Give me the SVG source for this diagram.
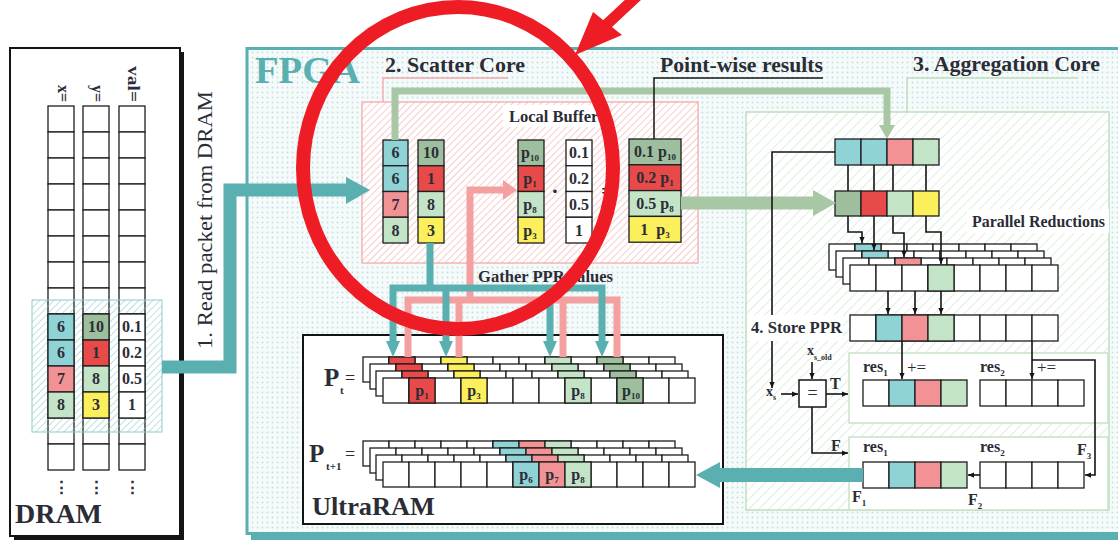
<svg xmlns="http://www.w3.org/2000/svg" xmlns:xlink="http://www.w3.org/1999/xlink" width="1118" height="540" viewBox="0 0 1118 540">
<style>
text{font-family:"Liberation Serif","DejaVu Serif",serif;font-weight:bold;fill:#2b2d36}
.c{font-size:16px;text-anchor:middle}
.cl{stroke:#1e1e1e;stroke-width:1.3}
.w{fill:#fff}.cy{fill:#8fd3d6}.pk{fill:#f29294}.rd{fill:#e84a4a}.lg{fill:#c4e4c8}.dg{fill:#9dbf9e}.yl{fill:#fbef5c}
.ln{fill:none;stroke:#141414;stroke-width:1.6}
.teal{fill:none;stroke:#5ab0b0}
.tealf{fill:#5ab0b0}
.pinkl{fill:none;stroke:#f4a0a0;stroke-width:7}
.sage{fill:none;stroke:#a8c7a4}
.sagef{fill:#a8c7a4}
.lbl{fill:#fff}
</style>
<defs>
<pattern id="dots" width="5" height="5" patternUnits="userSpaceOnUse"><rect width="5" height="5" fill="#f5fafa"/><circle cx="2.5" cy="2.5" r="0.9" fill="#c8dfe0"/></pattern>
<pattern id="hPink" width="5" height="5" patternUnits="userSpaceOnUse" patternTransform="rotate(45)"><rect width="5" height="5" fill="#fff"/><line x1="0" y1="0" x2="0" y2="5" stroke="#f5b0b0" stroke-width="1.3"/></pattern>
<pattern id="hGreen" width="7" height="7" patternUnits="userSpaceOnUse" patternTransform="rotate(45)"><rect width="7" height="7" fill="#fff"/><line x1="0" y1="0" x2="0" y2="7" stroke="#cfe6cf" stroke-width="1.3"/></pattern>
<pattern id="hTeal" width="5" height="5" patternUnits="userSpaceOnUse" patternTransform="rotate(45)"><line x1="0" y1="0" x2="0" y2="5" stroke="#86c6c6" stroke-width="1.1"/></pattern>
<marker id="ah" viewBox="0 0 8 8" refX="8" refY="4" markerWidth="6" markerHeight="6" markerUnits="userSpaceOnUse" orient="auto"><path d="M0,0.5 L8,4 L0,7.5z" fill="#141414"/></marker>
<g id="dcol">
<rect class="cl w" x="0" y="106" width="26" height="26"/><rect class="cl w" x="0" y="132" width="26" height="26"/><rect class="cl w" x="0" y="158" width="26" height="26"/><rect class="cl w" x="0" y="184" width="26" height="26"/><rect class="cl w" x="0" y="210" width="26" height="26"/><rect class="cl w" x="0" y="236" width="26" height="26"/><rect class="cl w" x="0" y="262" width="26" height="26"/><rect class="cl w" x="0" y="288" width="26" height="26"/><rect class="cl w" x="0" y="314" width="26" height="26"/><rect class="cl w" x="0" y="340" width="26" height="26"/><rect class="cl w" x="0" y="366" width="26" height="26"/><rect class="cl w" x="0" y="392" width="26" height="26"/><rect class="cl w" x="0" y="418" width="26" height="26"/><rect class="cl w" x="0" y="444" width="26" height="26"/>
</g>
<g id="row12">
<rect class="cl w" x="0" y="0" width="26" height="25"/><rect class="cl w" x="26" y="0" width="26" height="25"/><rect class="cl w" x="52" y="0" width="26" height="25"/><rect class="cl w" x="78" y="0" width="26" height="25"/><rect class="cl w" x="104" y="0" width="26" height="25"/><rect class="cl w" x="130" y="0" width="26" height="25"/><rect class="cl w" x="156" y="0" width="26" height="25"/><rect class="cl w" x="182" y="0" width="26" height="25"/><rect class="cl w" x="208" y="0" width="26" height="25"/><rect class="cl w" x="234" y="0" width="26" height="25"/><rect class="cl w" x="260" y="0" width="26" height="25"/><rect class="cl w" x="286" y="0" width="26" height="25"/>
</g>
<g id="row8">
<rect class="cl w" x="0" y="0" width="26" height="26"/><rect class="cl w" x="26" y="0" width="26" height="26"/><rect class="cl w" x="52" y="0" width="26" height="26"/><rect class="cl w" x="78" y="0" width="26" height="26"/><rect class="cl w" x="104" y="0" width="26" height="26"/><rect class="cl w" x="130" y="0" width="26" height="26"/><rect class="cl w" x="156" y="0" width="26" height="26"/><rect class="cl w" x="182" y="0" width="26" height="26"/>
</g>
</defs>

<rect width="1118" height="540" fill="#fff"/>

<!-- DRAM -->
<g id="dram">
<rect x="14" y="52" width="170" height="488" fill="#141414"/>
<rect x="10" y="48" width="170" height="488" fill="#fff" stroke="#141414" stroke-width="2"/>
<text x="58" y="102" font-size="16" text-anchor="end" transform="rotate(90 58 102)">x=</text>
<text x="92" y="102" font-size="16" text-anchor="end" transform="rotate(90 92 102)">y=</text>
<text x="128" y="102" font-size="16" text-anchor="end" textLength="36" lengthAdjust="spacingAndGlyphs" transform="rotate(90 128 102)">val=</text>
<use href="#dcol" x="48"/><use href="#dcol" x="83"/><use href="#dcol" x="119"/>
<rect x="32" y="300" width="130" height="132" fill="url(#hTeal)" stroke="#8fcaca" stroke-width="1"/>
<rect class="cl cy" x="48" y="314" width="26" height="26"/><rect class="cl cy" x="48" y="340" width="26" height="26"/><rect class="cl pk" x="48" y="366" width="26" height="26"/><rect class="cl lg" x="48" y="392" width="26" height="26"/>
<rect class="cl dg" x="83" y="314" width="26" height="26"/><rect class="cl rd" x="83" y="340" width="26" height="26"/><rect class="cl lg" x="83" y="366" width="26" height="26"/><rect class="cl yl" x="83" y="392" width="26" height="26"/>
<rect class="cl w" x="119" y="314" width="26" height="26"/><rect class="cl w" x="119" y="340" width="26" height="26"/><rect class="cl w" x="119" y="366" width="26" height="26"/><rect class="cl w" x="119" y="392" width="26" height="26"/>
<text class="c" x="61" y="332">6</text><text class="c" x="61" y="358">6</text><text class="c" x="61" y="384">7</text><text class="c" x="61" y="410">8</text>
<text class="c" x="96" y="332">10</text><text class="c" x="96" y="358">1</text><text class="c" x="96" y="384">8</text><text class="c" x="96" y="410">3</text>
<text class="c" x="132" y="332">0.1</text><text class="c" x="132" y="358">0.2</text><text class="c" x="132" y="384">0.5</text><text class="c" x="132" y="410">1</text>
<text x="61" y="493" font-size="17" text-anchor="middle" style="font-family:'DejaVu Serif',serif">⋮</text>
<text x="96" y="493" font-size="17" text-anchor="middle" style="font-family:'DejaVu Serif',serif">⋮</text>
<text x="132" y="493" font-size="17" text-anchor="middle" style="font-family:'DejaVu Serif',serif">⋮</text>
<text x="15" y="523" font-size="27" textLength="87" lengthAdjust="spacingAndGlyphs">DRAM</text>
</g>

<text x="212" y="220" font-size="20" style="font-weight:normal" text-anchor="middle" textLength="258" lengthAdjust="spacingAndGlyphs" transform="rotate(-90 212 220)">1. Read packet from DRAM</text>

<!-- FPGA -->
<g id="fpga">
<rect x="251" y="534" width="870" height="6" fill="#5ab0b0"/>
<rect x="247" y="48.5" width="880" height="485" fill="url(#dots)" stroke="#5ab0b0" stroke-width="3"/>
<text x="255" y="83" font-size="37" textLength="105" lengthAdjust="spacingAndGlyphs" style="fill:#5ab0b0">FPGA</text>
</g>

<!-- Scatter core -->
<g id="scatter-core">
<text x="385" y="72" font-size="20" textLength="140" lengthAdjust="spacingAndGlyphs">2. Scatter Core</text>
<path d="M383,102 V78 H508" fill="none" stroke="#f4a6a6" stroke-width="1.3"/>
<rect x="362" y="102" width="336" height="161" fill="url(#hPink)" stroke="#f4a6a6" stroke-width="1.2"/>
<rect class="lbl" x="503" y="105" width="107" height="22"/>
<text x="509" y="122" font-size="16.5">Local Buffers</text>
<rect class="cl cy" x="383" y="140" width="25" height="25.75"/><rect class="cl cy" x="383" y="165.75" width="25" height="25.75"/><rect class="cl pk" x="383" y="191.5" width="25" height="25.75"/><rect class="cl lg" x="383" y="217.25" width="25" height="25.75"/>
<rect class="cl dg" x="418" y="140" width="26" height="25.75"/><rect class="cl rd" x="418" y="165.75" width="26" height="25.75"/><rect class="cl lg" x="418" y="191.5" width="26" height="25.75"/><rect class="cl yl" x="418" y="217.25" width="26" height="25.75"/>
<rect class="cl dg" x="518" y="140" width="26" height="25.75"/><rect class="cl rd" x="518" y="165.75" width="26" height="25.75"/><rect class="cl lg" x="518" y="191.5" width="26" height="25.75"/><rect class="cl yl" x="518" y="217.25" width="26" height="25.75"/>
<rect class="cl w" x="566" y="140" width="26" height="25.75"/><rect class="cl w" x="566" y="165.75" width="26" height="25.75"/><rect class="cl w" x="566" y="191.5" width="26" height="25.75"/><rect class="cl w" x="566" y="217.25" width="26" height="25.75"/>
<text class="c" x="395.5" y="158">6</text><text class="c" x="395.5" y="184">6</text><text class="c" x="395.5" y="210">7</text><text class="c" x="395.5" y="235.5">8</text>
<text class="c" x="431" y="158">10</text><text class="c" x="431" y="184">1</text><text class="c" x="431" y="210">8</text><text class="c" x="431" y="235.5">3</text>
<text class="c" x="530" y="158" font-size="16">p<tspan font-size="9" dy="3">10</tspan></text>
<text class="c" x="530" y="184" font-size="16">p<tspan font-size="9" dy="3">1</tspan></text>
<text class="c" x="530" y="210" font-size="16">p<tspan font-size="9" dy="3">8</tspan></text>
<text class="c" x="530" y="235.5" font-size="16">p<tspan font-size="9" dy="3">3</tspan></text>
<text class="c" x="579" y="158">0.1</text><text class="c" x="579" y="184">0.2</text><text class="c" x="579" y="210">0.5</text><text class="c" x="579" y="235.5">1</text>
<text x="555" y="198" font-size="22" text-anchor="middle">·</text>
<text x="607" y="198" font-size="20" text-anchor="middle">=</text>
</g>

<!-- Point-wise results -->
<g id="pointwise">
<rect class="cl dg" x="629" y="139" width="52" height="25.8"/><rect class="cl rd" x="629" y="164.8" width="52" height="25.8"/><rect class="cl lg" x="629" y="190.6" width="52" height="25.8"/><rect class="cl yl" x="629" y="216.4" width="52" height="25.8"/>
<text class="c" x="655" y="157">0.1 p<tspan font-size="9" dy="3">10</tspan></text>
<text class="c" x="655" y="183">0.2 p<tspan font-size="9" dy="3">1</tspan></text>
<text class="c" x="655" y="209">0.5 p<tspan font-size="9" dy="3">8</tspan></text>
<text class="c" x="655" y="235" xml:space="preserve">1  p<tspan font-size="9" dy="3">3</tspan></text>
</g>

<!-- Aggregation core -->
<g id="aggregation-core">
<text x="913" y="71" font-size="20" textLength="187" lengthAdjust="spacingAndGlyphs">3. Aggregation Core</text>
<path d="M907,112 V78 H1078" fill="none" stroke="#bfe0bf" stroke-width="1.5"/>
<rect x="746" y="112" width="363" height="398" fill="url(#hGreen)" stroke="#bfdfbf" stroke-width="1.5"/>
<rect class="lbl" x="967" y="209" width="142" height="24"/>
<text x="972" y="227" font-size="16" textLength="133" lengthAdjust="spacingAndGlyphs">Parallel Reductions</text>
<rect class="cl cy" x="835" y="139" width="26" height="26"/><rect class="cl cy" x="861" y="139" width="26" height="26"/><rect class="cl pk" x="887" y="139" width="26" height="26"/><rect class="cl lg" x="913" y="139" width="26" height="26"/>
<rect class="cl dg" x="835" y="191" width="26" height="25"/><rect class="cl rd" x="861" y="191" width="26" height="25"/><rect class="cl lg" x="887" y="191" width="26" height="25"/><rect class="cl yl" x="913" y="191" width="26" height="25"/>
<use href="#row8" x="829" y="244"/><rect class="cl cy" x="855" y="244" width="26" height="26"/>
<use href="#row8" x="836" y="251"/><rect class="cl cy" x="862" y="251" width="26" height="26"/>
<use href="#row8" x="843" y="258"/><rect class="cl pk" x="895" y="258" width="26" height="26"/>
<use href="#row8" x="850" y="265"/><rect class="cl lg" x="928" y="265" width="26" height="26"/>
<use href="#row8" x="850" y="315"/>
<rect class="cl cy" x="876" y="315" width="26" height="26"/><rect class="cl pk" x="902" y="315" width="26" height="26"/><rect class="cl lg" x="928" y="315" width="26" height="26"/>
<rect x="849" y="353" width="259" height="70" fill="#fff" stroke="#c6e3c6" stroke-width="1.5"/>
<rect x="849" y="437" width="259" height="73" fill="#fff" stroke="#c6e3c6" stroke-width="1.5"/>
<text x="863" y="372" font-size="16">res<tspan font-size="9" dy="4">1</tspan></text>
<text x="907" y="373" font-size="17" style="font-weight:normal">+=</text>
<text x="980" y="372" font-size="16">res<tspan font-size="9" dy="4">2</tspan></text>
<text x="1037" y="373" font-size="17" style="font-weight:normal">+=</text>
<rect class="cl w" x="863" y="380" width="26" height="26"/><rect class="cl cy" x="889" y="380" width="26" height="26"/><rect class="cl pk" x="915" y="380" width="26" height="26"/><rect class="cl lg" x="941" y="380" width="26" height="26"/>
<rect class="cl w" x="980" y="380" width="26" height="26"/><rect class="cl w" x="1006" y="380" width="26" height="26"/><rect class="cl w" x="1032" y="380" width="26" height="26"/><rect class="cl w" x="1058" y="380" width="26" height="26"/>
<text x="863" y="452" font-size="16">res<tspan font-size="9" dy="4">1</tspan></text>
<text x="980" y="452" font-size="16">res<tspan font-size="9" dy="4">2</tspan></text>
<text x="1077" y="455" font-size="16">F<tspan font-size="9" dy="4">3</tspan></text>
<rect class="cl w" x="863" y="462" width="26" height="26"/><rect class="cl cy" x="889" y="462" width="26" height="26"/><rect class="cl pk" x="915" y="462" width="26" height="26"/><rect class="cl lg" x="941" y="462" width="26" height="26"/>
<rect class="cl w" x="980" y="462" width="26" height="26"/><rect class="cl w" x="1006" y="462" width="26" height="26"/><rect class="cl w" x="1032" y="462" width="26" height="26"/><rect class="cl w" x="1058" y="462" width="26" height="26"/>
<text x="852" y="502" font-size="16">F<tspan font-size="9" dy="4">1</tspan></text>
<text x="968" y="505" font-size="16">F<tspan font-size="9" dy="4">2</tspan></text>
<rect x="799" y="380" width="27" height="27" fill="#fff" stroke="#141414" stroke-width="1.5"/>
<text x="812.5" y="399" font-size="18" text-anchor="middle" style="font-weight:normal">=</text>
<text x="766" y="396" font-size="14">x<tspan font-size="8" dy="4">s</tspan></text>
<text x="807" y="355" font-size="14">x<tspan font-size="8" dy="5">s_old</tspan></text>
<text x="830" y="389" font-size="16">T</text>
<text x="831" y="451" font-size="16">F</text>
</g>

<!-- UltraRAM -->
<g id="ultraram">
<rect x="303" y="335" width="420" height="189" fill="#fff" stroke="#141414" stroke-width="2"/>
<text x="312" y="515" font-size="26" textLength="123" lengthAdjust="spacingAndGlyphs">UltraRAM</text>
<text x="324" y="386" font-size="25">P</text><text x="340" y="394" font-size="11">t</text><text x="345" y="384" font-size="18" style="font-weight:normal">=</text>
<text x="309" y="462" font-size="25">P</text><text x="326" y="470" font-size="11">t+1</text><text x="345" y="460" font-size="18" style="font-weight:normal">=</text>
<use href="#row12" x="363" y="357"/>
<rect class="cl rd" x="389" y="357" width="26" height="25"/><rect class="cl yl" x="441" y="357" width="26" height="25"/><rect class="cl lg" x="545" y="357" width="26" height="25"/><rect class="cl dg" x="597" y="357" width="26" height="25"/>
<use href="#row12" x="370" y="364"/>
<rect class="cl rd" x="396" y="364" width="26" height="25"/><rect class="cl yl" x="448" y="364" width="26" height="25"/><rect class="cl lg" x="552" y="364" width="26" height="25"/><rect class="cl dg" x="604" y="364" width="26" height="25"/>
<use href="#row12" x="376" y="371"/>
<rect class="cl rd" x="402" y="371" width="26" height="25"/><rect class="cl yl" x="454" y="371" width="26" height="25"/><rect class="cl lg" x="558" y="371" width="26" height="25"/><rect class="cl dg" x="610" y="371" width="26" height="25"/>
<use href="#row12" x="383" y="378"/>
<rect class="cl rd" x="409" y="378" width="26" height="25"/><rect class="cl yl" x="461" y="378" width="26" height="25"/><rect class="cl lg" x="565" y="378" width="26" height="25"/><rect class="cl dg" x="617" y="378" width="26" height="25"/>
<text class="c" x="422" y="396">p<tspan font-size="9" dy="3">1</tspan></text>
<text class="c" x="474" y="396">p<tspan font-size="9" dy="3">3</tspan></text>
<text class="c" x="578" y="396">p<tspan font-size="9" dy="3">8</tspan></text>
<text class="c" x="631" y="396">p<tspan font-size="9" dy="3">10</tspan></text>
<use href="#row12" x="363" y="441"/>
<rect class="cl cy" x="493" y="441" width="26" height="25"/><rect class="cl pk" x="519" y="441" width="26" height="25"/><rect class="cl lg" x="545" y="441" width="26" height="25"/>
<use href="#row12" x="370" y="448"/>
<rect class="cl cy" x="500" y="448" width="26" height="25"/><rect class="cl pk" x="526" y="448" width="26" height="25"/><rect class="cl lg" x="552" y="448" width="26" height="25"/>
<use href="#row12" x="376" y="455"/>
<rect class="cl cy" x="506" y="455" width="26" height="25"/><rect class="cl pk" x="532" y="455" width="26" height="25"/><rect class="cl lg" x="558" y="455" width="26" height="25"/>
<use href="#row12" x="383" y="462"/>
<rect class="cl cy" x="513" y="462" width="26" height="25"/><rect class="cl pk" x="539" y="462" width="26" height="25"/><rect class="cl lg" x="565" y="462" width="26" height="25"/>
<text class="c" x="526" y="480">p<tspan font-size="9" dy="3">6</tspan></text>
<text class="c" x="552" y="480">p<tspan font-size="9" dy="3">7</tspan></text>
<text class="c" x="578" y="480">p<tspan font-size="9" dy="3">8</tspan></text>
</g>

<!-- connectors -->
<g id="connectors">
<path class="teal" d="M162,367 H230 V190 H348" stroke-width="13"/>
<polygon class="tealf" points="346,177 370,190 346,204"/>
<path class="pinkl" d="M408,357 V300 H617 V357"/>
<path class="pinkl" d="M459,300 V357 M563,300 V357 M470,300 V190 H505"/>
<polygon fill="#f4a0a0" points="503,180 517,190 503,200"/>
<path class="teal" d="M393,342 V288 H602 V342 M446,288 V342 M550,288 V342 M430,243 V288" stroke-width="7"/>
<polygon class="tealf" points="386,341 400,341 393,357"/>
<polygon class="tealf" points="439,341 453,341 446,357"/>
<polygon class="tealf" points="543,341 557,341 550,357"/>
<polygon class="tealf" points="595,341 609,341 602,357"/>
<path class="sage" d="M395,140 V91 H887 V126" stroke-width="7"/>
<polygon class="sagef" points="879,125 895,125 887,139"/>
<path class="sage" d="M681,203 H815" stroke-width="13"/>
<polygon class="sagef" points="813,190 836,203 813,216"/>
<path class="ln" d="M848,165 V191 M874,165 V191 M893,165 V191 M926,165 V191"/>
<path class="ln" d="M848,216 V232 H862 V243" marker-end="url(#ah)"/>
<path class="ln" d="M874,216 V250" marker-end="url(#ah)"/>
<path class="ln" d="M893,216 V233 H904 V257" marker-end="url(#ah)"/>
<path class="ln" d="M926,216 V232 H941 V264" marker-end="url(#ah)"/>
<path class="ln" d="M888,291 V314" marker-end="url(#ah)"/>
<path class="ln" d="M915,291 V314" marker-end="url(#ah)"/>
<path class="ln" d="M941,291 V314" marker-end="url(#ah)"/>
<path class="ln" d="M835,152 H772 V388" marker-end="url(#ah)"/>
<path class="ln" d="M781,394 H798" marker-end="url(#ah)"/>
<path class="ln" d="M812,362 V379" marker-end="url(#ah)"/>
<path class="ln" d="M826,394 H848" marker-end="url(#ah)"/>
<path class="ln" d="M812,407 V453 H848" marker-end="url(#ah)"/>
<path class="ln" d="M902,341 V379" marker-end="url(#ah)"/>
<path class="ln" d="M1032,341 V379" marker-end="url(#ah)"/>
<path class="ln" d="M1032,360 H1095 V475 H1085" marker-end="url(#ah)"/>
<path class="ln" d="M980,475 H968" marker-end="url(#ah)"/>
<path class="teal" d="M863,475 H718" stroke-width="14"/>
<polygon class="tealf" points="720,462 696,475 720,488"/>
</g>

<g id="point-wise-label">
<path d="M654,139 V78 H823" fill="none" stroke="#141414" stroke-width="1.5"/>
<text x="660" y="72" font-size="20" textLength="163" lengthAdjust="spacingAndGlyphs">Point-wise results</text>
</g>
<g id="gather-label">
<text x="478" y="282" font-size="16" textLength="135" lengthAdjust="spacingAndGlyphs">Gather PPR values</text>
</g>
<g id="store-ppr-label">
<rect class="lbl" x="747" y="315" width="96" height="26"/>
<text x="751" y="333" font-size="17" textLength="91" lengthAdjust="spacingAndGlyphs">4. Store PPR</text>
</g>

<!-- red annotation -->
<g id="annotation">
<ellipse cx="458" cy="168" rx="155" ry="161" fill="none" stroke="#ee1c25" stroke-width="14"/>
<path d="M650,-16 L605,26" stroke="#ee1c25" stroke-width="11" fill="none"/>
<polygon points="575,55 593,12 622,35" fill="#ee1c25"/>
</g>
</svg>
